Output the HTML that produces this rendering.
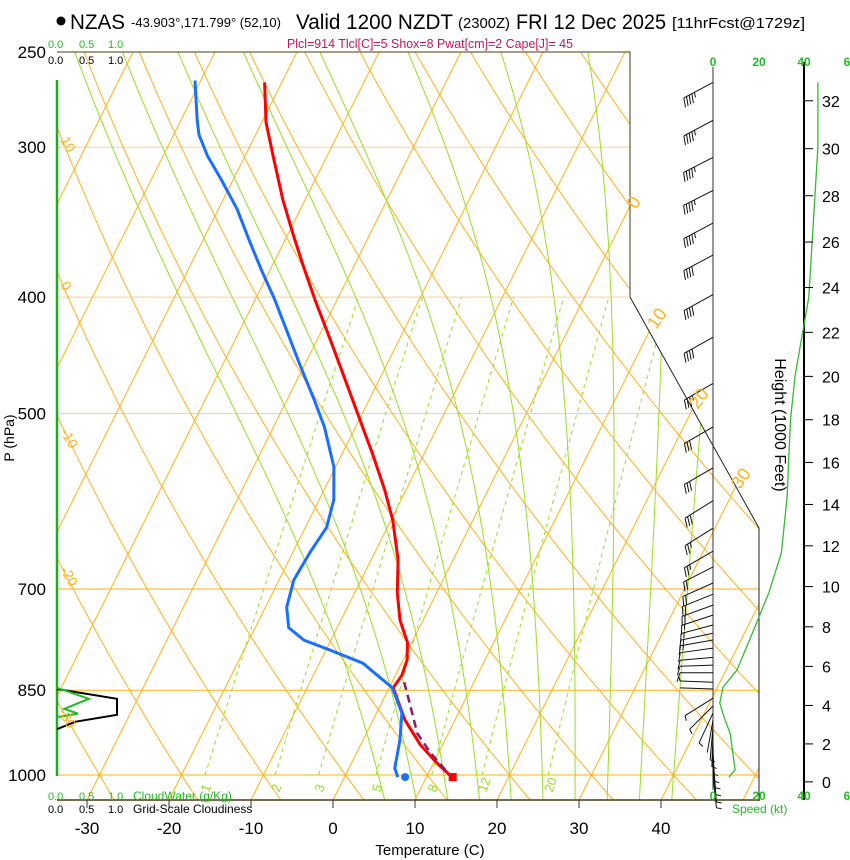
<!DOCTYPE html>
<html><head><meta charset="utf-8"><title>Skew-T NZAS</title>
<style>
html,body{margin:0;padding:0;background:#fff;}
svg{display:block;font-family:"Liberation Sans",Arial,sans-serif;}
</style></head>
<body>
<svg id="chart" width="850" height="860" viewBox="0 0 850 860" xmlns="http://www.w3.org/2000/svg">
<defs>
<clipPath id="plotclip"><polygon points="57,52 630,52 630,297 759,528 759,800 57,800"/></clipPath>
</defs>
<g id="header">
<circle cx="61" cy="21" r="4.5" fill="#000"/>
<text x="70" y="29" font-size="21" textLength="55" lengthAdjust="spacingAndGlyphs">NZAS</text>
<text x="131" y="27" font-size="12.5" textLength="150" lengthAdjust="spacingAndGlyphs">-43.903°,171.799° (52,10)</text>
<text x="296" y="29" font-size="21" textLength="157" lengthAdjust="spacingAndGlyphs">Valid 1200 NZDT</text>
<text x="458" y="28" font-size="15" textLength="52" lengthAdjust="spacingAndGlyphs">(2300Z)</text>
<text x="516" y="29" font-size="21" textLength="150" lengthAdjust="spacingAndGlyphs">FRI 12 Dec 2025</text>
<text x="672" y="28" font-size="15" textLength="133" lengthAdjust="spacingAndGlyphs">[11hrFcst@1729z]</text>
<text x="287" y="48" font-size="12.5" fill="#c0185c" textLength="286" lengthAdjust="spacingAndGlyphs">Plcl=914 Tlcl[C]=5 Shox=8 Pwat[cm]=2 Cape[J]= 45</text>
</g>
<g id="grid" clip-path="url(#plotclip)"></g>
<g id="frame"></g>
<g id="series" clip-path="url(#plotclip)"></g>
<g id="cloud"></g>
<g id="wind"></g>
<g id="labels"></g>
</svg>
<script>
// ---- data arrays ----
var tempP   = [265,286,307,332,355,376,402,434,469,506,541,579,613,662,705,743,776,802,826,846,900,944,977,1004];
var tempC   = [-52.1,-49.5,-46.3,-42.7,-39.3,-36.3,-32.7,-28.4,-24.1,-19.9,-16.2,-12.6,-9.8,-6.7,-4.8,-2.8,-0.5,0.5,0.8,0.5,3.9,7.3,10.4,13.1];
var dewP    = [264,285,293,305,320,338,359,380,402,430,456,487,513,554,590,622,653,688,725,754,772,787,807,829,846,888,935,987,1004];
var dewC    = [-60.7,-58.0,-56.9,-54.6,-51.3,-47.7,-44.3,-41.0,-37.6,-33.8,-30.5,-26.7,-23.8,-20.2,-18.2,-17.4,-17.9,-18.2,-17.4,-15.9,-13.3,-9.5,-4.7,-1.8,0.4,3.1,4.5,5.6,6.5];
var parcelP = [837,874,923,957,1000];
var parcelC = [1.5,3.6,6.2,8.9,12.7];
var sfcP = 1004, sfcT = 13.2, sfcTd = 7.4;
var cloudP    = [848,864,891,903,916];
var cloudFrac = [0,1.0,1.0,0.3,0];
var cwP       = [846,864,881,889,895];
var cwVal     = [0,0.53,0.12,0.35,0];
var windP   = [265,285,306,326,347,369,398,432,472,513,555,591,623,651,671,692,707,722,736,750,762,772,784,798,810,822,837,848,863,876,888,900,912,924,937,950,962,975,989,1000];
var windDir = [242,242,243,243,242,242,241,241,240,240,240,238,238,240,243,246,248,250,252,255,258,260,262,265,268,270,272,272,238,225,205,190,185,182,180,178,176,175,174,174];
var windSpd = [46,46,46,46,45,44,42,40,37,34,32,30,27,25,24,22,21,20,19,18,17,16,14,13,12,10,7,4,5,6,5,4,5,5,6,6,6,7,7,7];
var profP = [265,300,400,465,506,587,653,705,772,818,845,871,897,923,990,1004];
var profS = [46,46,42,36,34,32.5,30,24.5,16,10.5,4.4,3,5,7.5,9.7,7];
var pressTicks = [250,300,400,500,700,850,1000];
var tempTicks  = [-30,-20,-10,0,10,20,30,40];
var mixRatios  = [1,2,3,5,8,12,20];
var moistThetaW = [4,8,12,16,20,24,28,32,36,40];
var heightTicks = [0,2,4,6,8,10,12,14,16,18,20,22,24,26,28,30,32];

// ---- axis functions ----
function Y(p){ return 775 + 521.5*Math.log(p/1000); }
function X(T,p){ return 333 + 8.2*T + 0.5*(800 - Y(p)); }
var NS="http://www.w3.org/2000/svg";
function mk(tag,attrs,parent){ var e=document.createElementNS(NS,tag); for(var k in attrs) e.setAttribute(k,attrs[k]); parent.appendChild(e); return e; }
function pathFrom(pts){ return pts.map(function(q,i){return (i?"L":"M")+q[0].toFixed(1)+","+q[1].toFixed(1);}).join(""); }
var grid=document.getElementById('grid'), frame=document.getElementById('frame'), series=document.getElementById('series'),
    cloud=document.getElementById('cloud'), wind=document.getElementById('wind'), labels=document.getElementById('labels');
var ORANGE="#ffb21e", GREEN="#99dd22";

[300,400,500].forEach(function(p){
  var l=mk('line',{x1:57,x2:760,y1:Y(p),y2:Y(p),stroke:"#fcd48c","stroke-width":1},grid);
  
  
});
[700,850,1000].forEach(function(p){
  var l=mk('line',{x1:57,x2:760,y1:Y(p),y2:Y(p),stroke:ORANGE,"stroke-width":1},grid);
  
  
});
for(var t=-120;t<=60;t+=10){
  var l=mk('line',{x1:X(t,1060),y1:Y(1060),x2:X(t,240),y2:Y(240),stroke:ORANGE,"stroke-width":1},grid);
  
  
}
for(var th=-40;th<=170;th+=10){
  var pts=[];
  for(var p=1060;p>=240;p-=10){ var Tk=(th+273.15)*Math.pow(p/1000,0.286)-273.15; pts.push([X(Tk,p),Y(p)]); }
  var e=mk('path',{d:pathFrom(pts),fill:"none",stroke:ORANGE,"stroke-width":1},grid);
  
  
}
function dTdp(T,p){ var tc=T-273.15; var es=6.112*Math.exp(17.67*tc/(tc+243.5)); var rs=0.622*es/(p-es);
  return (287*T+2.5e6*rs)/(p*(1004+2.5e6*2.5e6*rs*0.622/(287*T*T))); }
moistThetaW.forEach(function(tw){
  var pts=[], T=tw+273.15, p;
  var down=[]; var Td=T;
  for(p=1000;p<1060;p+=5){ Td+=dTdp(Td,p)*5; down.push([X(Td-273.15,p+5),Y(p+5)]); }
  down.reverse(); pts=down.concat([[X(tw,1000),Y(1000)]]);
  for(p=1000;p>240;p-=5){ T-=dTdp(T,p)*5; pts.push([X(T-273.15,p-5),Y(p-5)]); }
  var e=mk('path',{d:pathFrom(pts),fill:"none",stroke:GREEN,"stroke-width":1},grid);
  
  
});
function tdFromW(w,p){ var e=w*p/(622+w); var a=Math.log(e/6.112); return 243.5*a/(17.67-a); }
mixRatios.forEach(function(w){
  var pts=[]; for(var p=1000;p>=400;p-=10) pts.push([X(tdFromW(w,p),p),Y(p)]);
  var e=mk('path',{d:pathFrom(pts),fill:"none",stroke:GREEN,"stroke-width":1,"stroke-dasharray":"4,4"},grid);
  
  
  var x=X(tdFromW(w,1000),1000)+4;
  var tx=mk('text',{x:0,y:0,"font-size":13,fill:GREEN,transform:"translate("+x+",793) rotate(-70)"},labels);
  tx.textContent=String(w);
  
  
});

var fr=mk('polyline',{points:"57,52 630,52 630,297",fill:"none",stroke:"#4a3a10","stroke-width":1},frame);


var dg=mk('polyline',{points:"630,297 759,528 759,800",fill:"none",stroke:"#222","stroke-width":1},frame);


var bx=mk('line',{x1:57,x2:760,y1:800,y2:800,stroke:"#4a3a10","stroke-width":1.5},frame);


var ga=mk('line',{x1:57,x2:57,y1:80,y2:776,stroke:"#22aa22","stroke-width":2.5},frame);



function seriesPts(P,T){ return P.map(function(p,i){return [X(T[i],p),Y(p)];}); }
var tl=mk('path',{d:pathFrom(seriesPts(tempP,tempC)),fill:"none",stroke:"#ff0000","stroke-width":3,"stroke-linejoin":"round"},series);


var dl=mk('path',{d:pathFrom(seriesPts(dewP,dewC)),fill:"none",stroke:"#1a6fff","stroke-width":3,"stroke-linejoin":"round"},series);


var pl=mk('path',{d:pathFrom(seriesPts(parcelP,parcelC)),fill:"none",stroke:"#8b1a6b","stroke-width":2.5,"stroke-dasharray":"8,5"},series);


var sd=mk('rect',{x:X(sfcT,sfcP)-4,y:Y(sfcP)-4,width:8,height:8,fill:"#ff0000"},series);


var sdd=mk('circle',{cx:X(sfcTd,sfcP),cy:Y(sfcP),r:4,fill:"#1a6fff"},series);



var cpts=cloudP.map(function(p,i){return [57+60*cloudFrac[i],Y(p)];});
var cl=mk('path',{d:pathFrom(cpts),fill:"none",stroke:"#000","stroke-width":2},cloud);


var wpts=cwP.map(function(p,i){return [57+60*cwVal[i],Y(p)];});
var cw=mk('path',{d:pathFrom(wpts),fill:"none",stroke:"#22bb22","stroke-width":2},cloud);



var ax1=mk('line',{x1:713,x2:713,y1:67,y2:790,stroke:"#333","stroke-width":1},wind);


var ax2=mk('line',{x1:804,x2:804,y1:62,y2:800,stroke:"#000","stroke-width":2},wind);


windP.forEach(function(p,i){
  var y=Y(p), d=windDir[i]*Math.PI/180, L=33;
  var ux=Math.sin(d), uy=-Math.cos(d);
  var tx=713+ux*L, ty=y+uy*L;
  var g=mk('g',{},wind);
  
  
  mk('line',{x1:713,y1:y,x2:tx,y2:ty,stroke:"#111","stroke-width":1},g);
  var s=windSpd[i], k=0, px=-uy, py=ux;
  if(px<0){px=-px;py=-py;}
  while(s>=10){ var bx0=tx-ux*3*k, by0=ty-uy*3*k; mk('line',{x1:bx0,y1:by0,x2:bx0+px*9+ux*3,y2:by0+py*9+uy*3,stroke:"#111","stroke-width":1},g); s-=10;k++; }
  if(s>=5){ var bx1=tx-ux*3*k, by1=ty-uy*3*k; mk('line',{x1:bx1,y1:by1,x2:bx1+px*5+ux*1.5,y2:by1+py*5+uy*1.5,stroke:"#111","stroke-width":1},g); }
});
var sp=profP.map(function(p,i){return [713+2.28*profS[i],Y(p)];});
var spl=mk('path',{d:pathFrom(sp),fill:"none",stroke:"#33bb33","stroke-width":1.3},wind);


function pStd(hkft){ var m=hkft*304.8; return 1013.25*Math.pow(1-2.2558e-5*m,5.2559); }
heightTicks.forEach(function(h){
  var y=Y(pStd(h));
  var tk=mk('line',{x1:804,x2:813,y1:y,y2:y,stroke:"#000","stroke-width":1},wind);
  
  
  var t=mk('text',{x:822,y:y+6,"font-size":16},labels);
  t.textContent=String(h);
  
  
});

pressTicks.forEach(function(p){
  var t=mk('text',{x:46,y:Y(p)+6,"font-size":17,"text-anchor":"end"},labels);
  t.textContent=String(p);
  
  
});
tempTicks.forEach(function(T){
  var x=333+8.2*T;
  var tk=mk('line',{x1:x,x2:x,y1:800,y2:808,stroke:"#333","stroke-width":1},labels);
  
  
  var t=mk('text',{x:x,y:834,"font-size":17,"text-anchor":"middle"},labels);
  t.textContent=String(T);
  
  
});
</script>
<script>
(function(){
var labels=document.getElementById('labels');
var NS="http://www.w3.org/2000/svg";
function txt(x,y,s,size,fill,extra){ var t=document.createElementNS(NS,'text'); t.setAttribute('x',x); t.setAttribute('y',y); t.setAttribute('font-size',size); if(fill) t.setAttribute('fill',fill); if(extra){for(var k in extra) t.setAttribute(k,extra[k]);} t.textContent=s; labels.appendChild(t); return t; }
var t;
t=txt(430,855,"Temperature (C)",15,"#000",{"text-anchor":"middle"});


t=txt(0,0,"P (hPa)",14,"#000",{"text-anchor":"middle",transform:"translate(14,438) rotate(-90)"});


t=txt(0,0,"Height (1000 Feet)",16,"#000",{"text-anchor":"middle",transform:"translate(775,425) rotate(90)"});


var G="#22bb22";
var sx=[48,79,108], sv=["0.0","0.5","1.0"];
for(var j=0;j<3;j++){
  t=txt(sx[j],48,sv[j],11,G);
  
  
  t=txt(sx[j],64,sv[j],11,"#000");
  
  
  t=txt(sx[j],800,sv[j],11,G);
  
  
  t=txt(sx[j],813,sv[j],11,"#000");
  
  
}
t=txt(133,800,"CloudWater (g/Kg)",12,G);  
t=txt(133,813,"Grid-Scale Cloudiness",12,"#000");  
var spx=[713,759,804,847], sps=["0","20","40","6"];
for(var i=0;i<4;i++){
  t=txt(spx[i],66,sps[i],12,G,{"text-anchor":"middle","font-weight":"bold"});  
  t=txt(spx[i],800,sps[i],12,G,{"text-anchor":"middle","font-weight":"bold"});  
}
t=txt(732,813,"Speed (kt)",12,G);  
var O="#ffb21e";
var ol=[[60,140,"10",60],[60,285,"0",60],[60,432,"-10",60],[60,570,"-20",60],[58,712,"-30",60]];
ol.forEach(function(a){ t=txt(0,0,a[2],14,O,{transform:"translate("+a[0]+","+a[1]+") rotate("+a[3]+")"});   });
var orr=[[636,210,"0"],[656,330,"10"],[698,410,"20"],[740,490,"30"]];
orr.forEach(function(a){ t=txt(0,0,a[2],18,O,{transform:"translate("+a[0]+","+a[1]+") rotate(-55)"});   });
})();
</script>
</body></html>
